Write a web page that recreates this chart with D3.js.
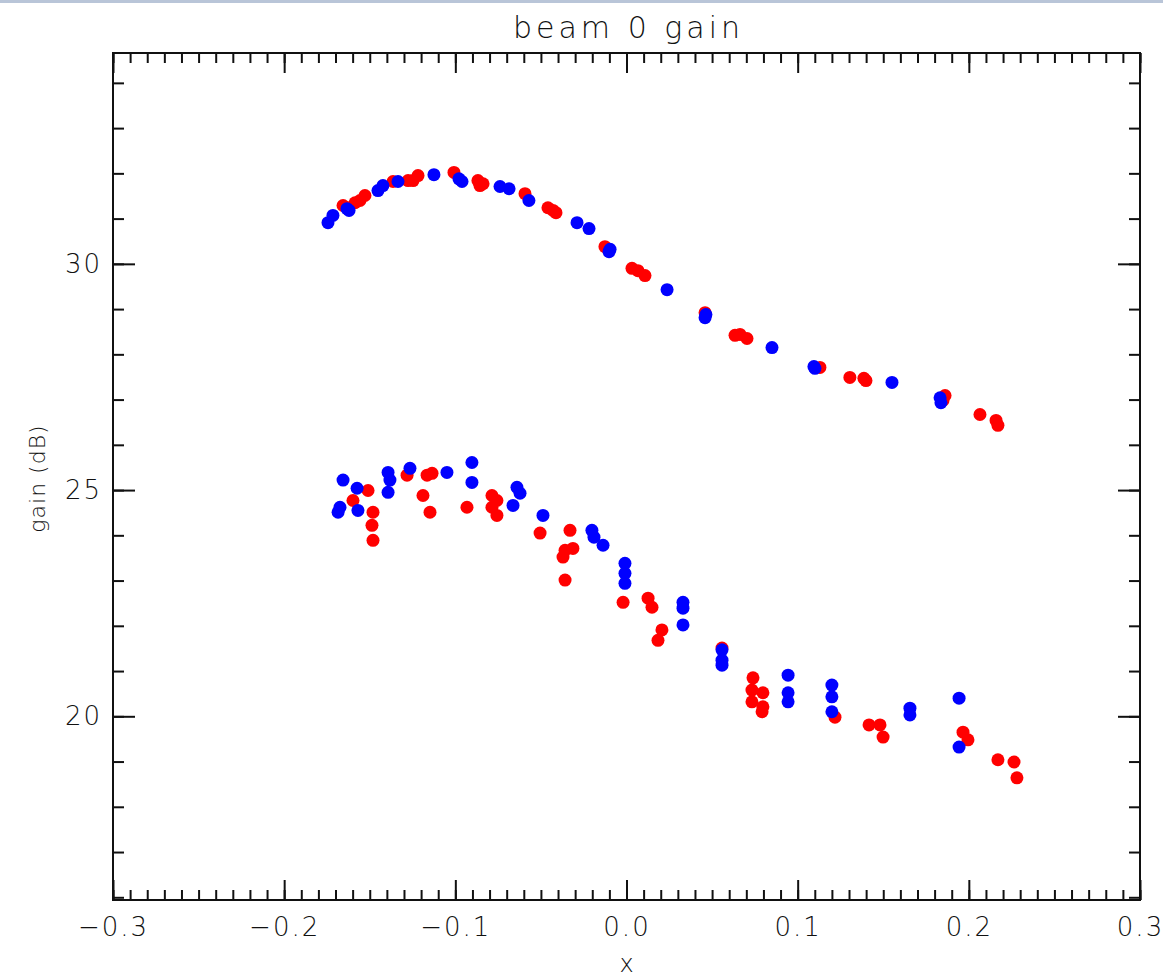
<!DOCTYPE html>
<html><head><meta charset="utf-8">
<script src="https://cdn.jsdelivr.net/npm/d3@7"></script>
<style>
html,body{margin:0;padding:0;background:#fff;}
text{font-family:"DejaVu Sans",sans-serif;font-weight:200;fill:#111;}
</style></head>
<body>
<svg id="chart" width="1163" height="975"></svg>
<script>
const title = "beam 0 gain";
const xLabel = "x";
const yLabel = "gain (dB)";
const xDomain = [-0.3, 0.3];
const yDomain = [15.94, 34.66];
const xMajorTicks = [-0.3, -0.2, -0.1, 0.0, 0.1, 0.2, 0.3];
const yMajorTicks = [20, 25, 30];

// upper curve
const blueUpperX = [-0.1744,-0.1715,-0.1633,-0.1621,-0.1452,-0.1423,-0.1335,-0.1125,-0.0979,-0.0961,-0.0739,-0.0686,-0.0570,-0.0289,-0.0219,-0.0096,-0.0102,0.0237,0.0459,0.0464,0.0850,0.1095,0.1101,0.1551,0.1832,0.1837];
const blueUpperGain = [30.91,31.07,31.22,31.18,31.62,31.73,31.82,31.97,31.88,31.82,31.71,31.66,31.40,30.91,30.78,30.32,30.27,29.43,28.81,28.88,28.15,27.73,27.69,27.38,27.04,26.93];
const redUpperX = [-0.1656,-0.1627,-0.1586,-0.1557,-0.1528,-0.1364,-0.1276,-0.1247,-0.1218,-0.1008,-0.0868,-0.0838,-0.0856,-0.0593,-0.0459,-0.0429,-0.0412,-0.0126,0.0032,0.0067,0.0108,0.0459,0.0634,0.0663,0.0704,0.1130,0.1305,0.1387,0.1399,0.1861,0.1849,0.2065,0.2159,0.2170];
const redUpperGain = [31.29,31.24,31.35,31.40,31.51,31.82,31.84,31.84,31.95,32.02,31.84,31.77,31.73,31.55,31.24,31.18,31.13,30.38,29.90,29.85,29.74,28.92,28.42,28.44,28.35,27.71,27.49,27.47,27.42,27.09,26.98,26.67,26.54,26.43];

// lower curve
const blueLowerX = [-0.1656,-0.1685,-0.1674,-0.1574,-0.1569,-0.1393,-0.1382,-0.1393,-0.1265,-0.1049,-0.0903,-0.0903,-0.0640,-0.0622,-0.0663,-0.0488,-0.0202,-0.0190,-0.0137,-0.0009,-0.0009,-0.0009,0.0330,0.0330,0.0330,0.0558,0.0558,0.0558,0.0944,0.0944,0.0944,0.1200,0.1200,0.1200,0.1656,0.1656,0.1943,0.1943];
const blueLowerGain = [25.22,24.51,24.62,25.04,24.55,25.39,25.22,24.95,25.48,25.39,25.61,25.17,25.06,24.93,24.66,24.44,24.11,23.96,23.78,23.38,23.16,22.94,22.52,22.39,22.02,21.47,21.24,21.13,20.91,20.52,20.32,20.69,20.43,20.10,20.18,20.03,20.40,19.32];
const redLowerX = [-0.1510,-0.1598,-0.1481,-0.1487,-0.1481,-0.1282,-0.1165,-0.1136,-0.1189,-0.1148,-0.0932,-0.0786,-0.0757,-0.0786,-0.0757,-0.0505,-0.0330,-0.0359,-0.0313,-0.0371,-0.0359,-0.0020,0.0126,0.0149,0.0207,0.0184,0.0558,0.0739,0.0733,0.0797,0.0733,0.0797,0.0792,0.1218,0.1417,0.1481,0.1499,0.1966,0.1995,0.2170,0.2264,0.2281];
const redLowerGain = [24.99,24.77,24.51,24.22,23.89,25.33,25.33,25.37,24.88,24.51,24.62,24.88,24.77,24.62,24.44,24.05,24.11,23.67,23.71,23.52,23.01,22.52,22.61,22.41,21.91,21.68,21.51,20.85,20.58,20.52,20.32,20.21,20.10,19.98,19.81,19.81,19.54,19.65,19.48,19.04,18.99,18.64];

const svg = d3.select("#chart");
const W = 1163, H = 975;
const m = {left:113, top:53, right:1140, bottom:900};

// light frame strip at top of window
svg.append("rect").attr("x",0).attr("y",0).attr("width",W).attr("height",3).attr("fill","#b9c5d8");

const x = d3.scaleLinear().domain(xDomain).range([m.left, m.right]);
const y = d3.scaleLinear().domain(yDomain).range([m.bottom, m.top]);

const xMinor = d3.range(-300, 301, 10).map(d => d/1000);
const yMinor = d3.range(16, 35, 1);

function styleAxis(g){
  g.select(".domain").remove();
  g.selectAll(".tick line").attr("stroke","#111").attr("stroke-width",2);
}
function styleText(g){
  g.selectAll("text").attr("font-size",26).attr("font-family","DejaVu Sans, sans-serif")
    .attr("font-weight",200).attr("letter-spacing",2).attr("fill","#111");
}

// bottom
svg.append("g").attr("transform",`translate(0,${m.bottom})`)
  .call(d3.axisBottom(x).tickValues(xMinor).tickSize(-10).tickFormat(""))
  .call(styleAxis);
svg.append("g").attr("transform",`translate(0,${m.bottom})`)
  .call(d3.axisBottom(x).tickValues(xMajorTicks).tickSize(-20).tickPadding(18).tickFormat(d3.format(".1f")))
  .call(styleAxis).call(styleText);
// top
svg.append("g").attr("transform",`translate(0,${m.top})`)
  .call(d3.axisTop(x).tickValues(xMinor).tickSize(-10).tickFormat(""))
  .call(styleAxis);
svg.append("g").attr("transform",`translate(0,${m.top})`)
  .call(d3.axisTop(x).tickValues(xMajorTicks).tickSize(-20).tickFormat(""))
  .call(styleAxis);
// left
svg.append("g").attr("transform",`translate(${m.left},0)`)
  .call(d3.axisLeft(y).tickValues(yMinor).tickSize(-11).tickFormat(""))
  .call(styleAxis);
svg.append("g").attr("transform",`translate(${m.left},0)`)
  .call(d3.axisLeft(y).tickValues(yMajorTicks).tickSize(-22).tickPadding(11).tickFormat(d3.format("d")))
  .call(styleAxis).call(styleText);
// right
svg.append("g").attr("transform",`translate(${m.right},0)`)
  .call(d3.axisRight(y).tickValues(yMinor).tickSize(-11).tickFormat(""))
  .call(styleAxis);
svg.append("g").attr("transform",`translate(${m.right},0)`)
  .call(d3.axisRight(y).tickValues(yMajorTicks).tickSize(-22).tickFormat(""))
  .call(styleAxis);

// frame
svg.append("rect").attr("x",m.left).attr("y",m.top).attr("width",m.right-m.left).attr("height",m.bottom-m.top)
  .attr("fill","none").attr("stroke","#111").attr("stroke-width",2);

// points
const r = 6.5;
function plot(xs, ys, color){
  svg.append("g").selectAll("circle").data(xs.map((d,i)=>[d, ys[i]])).join("circle")
    .attr("cx", d => x(d[0])).attr("cy", d => y(d[1])).attr("r", r).attr("fill", color);
}
plot(redUpperX, redUpperGain, "#ff0000");
plot(redLowerX, redLowerGain, "#ff0000");
plot(blueUpperX, blueUpperGain, "#0000ff");
plot(blueLowerX, blueLowerGain, "#0000ff");

// titles
svg.append("text").attr("x",(m.left+m.right)/2 + 2).attr("y",38).attr("text-anchor","middle")
  .attr("font-size",30).attr("letter-spacing",4).text(title);
svg.append("text").attr("x",(m.left+m.right)/2).attr("y",972).attr("text-anchor","middle")
  .attr("font-size",24).text(xLabel);
svg.append("text").attr("transform",`translate(45,${(m.top+m.bottom)/2 + 2}) rotate(-90)`).attr("text-anchor","middle")
  .attr("font-size",22).attr("letter-spacing",1).text(yLabel);
</script>
</body></html>
